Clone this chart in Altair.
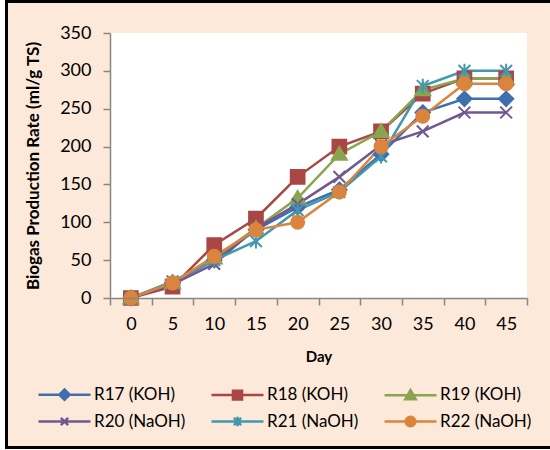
import altair as alt
import pandas as pd

days = [0, 5, 10, 15, 20, 25, 30, 35, 40, 45]
series = ["R17 (KOH)", "R18 (KOH)", "R19 (KOH)", "R20 (NaOH)", "R21 (NaOH)", "R22 (NaOH)"]
r17 = [0, 20, 50, 90, 120, 143, 190, 245, 263, 263]
r18 = [0, 15, 70, 105, 160, 200, 220, 270, 290, 290]
r19 = [0, 20, 53, 92, 132, 190, 220, 275, 290, 290]
r20 = [0, 18, 45, 92, 124, 160, 202, 220, 245, 245]
r21 = [0, 22, 50, 75, 116, 140, 187, 280, 300, 300]
r22 = [0, 20, 55, 90, 100, 140, 200, 240, 283, 283]
colors = ["#3F6FAE", "#AA4643", "#89A54E", "#71588F", "#4198AF", "#DB843D"]

values = [r17, r18, r19, r20, r21, r22]
rows = []
for i, (s, vals) in enumerate(zip(series, values)):
    for d, v in zip(days, vals):
        rows.append({"day": d, "value": v, "series": s, "order": i})
df = pd.DataFrame(rows)

# marker shapes in plot
plot_shapes = [
    "M0,-1.1L1.1,0L0,1.1L-1.1,0Z",
    "M-1.05,-1.05L1.05,-1.05L1.05,1.05L-1.05,1.05Z",
    "M0,-1.1L1.15,0.85L-1.15,0.85Z",
    "M-0.9,-0.9L0.9,0.9M-0.9,0.9L0.9,-0.9",
    "M-0.9,-0.9L0.9,0.9M-0.9,0.9L0.9,-0.9M0,-1.1L0,1.1",
    "circle",
]
# legend symbols: line + marker (unit = 13px, line spans 4 units, marker at 1)
ln = "M-1,0L3,0"
legend_shapes = [
    ln + "M1,-0.4L1.4,0L1,0.4L0.6,0Z",
    ln + "M0.65,-0.33L1.35,-0.33L1.35,0.33L0.65,0.33Z",
    ln + "M1,-0.4L1.4,0.3L0.6,0.3Z",
    ln + "M0.72,-0.28L1.28,0.28M0.72,0.28L1.28,-0.28",
    ln + "M0.72,-0.28L1.28,0.28M0.72,0.28L1.28,-0.28M1,-0.36L1,0.36",
    ln + "M1.37,0A0.37,0.37,0,1,1,0.63,0A0.37,0.37,0,1,1,1.37,0Z",
]

W, H = 417, 265
FONT = "Lato"

x_enc = alt.X(
    "day:O",
    scale=alt.Scale(type="band", paddingInner=0, paddingOuter=0),
    axis=alt.Axis(title="Day", labelAngle=0, tickBand="extent", labelFontSize=18,
                  labelPadding=10, titleFontSize=15, titleFontWeight="bold",
                  titlePadding=16, tickSize=7, zindex=1),
)
y_enc = alt.Y(
    "value:Q",
    scale=alt.Scale(domain=[0, 350], nice=False, zero=True),
    axis=alt.Axis(title="Biogas Production Rate (ml/g TS)", values=list(range(0, 351, 50)),
                  grid=False, labelFontSize=18, labelPadding=12, titleFontSize=17,
                  titleFontWeight="bold", titlePadding=17, tickSize=7, zindex=1),
)

stroke_scale = alt.Scale(domain=series, range=colors)

bg = pd.DataFrame({"a": [0]})
border = alt.Chart(bg).mark_rect(fill="#FDE9D9", stroke="black", strokeWidth=3).encode(
    x=alt.value(-103.5), x2=alt.value(460), y=alt.value(-31.5), y2=alt.value(414.5)
)
plot_bg = alt.Chart(bg).mark_rect(fill="white").encode(
    x=alt.value(0), x2=alt.value(W), y=alt.value(0), y2=alt.value(H)
)

lines = alt.Chart(df).mark_line(strokeWidth=2.5).encode(
    x=x_enc, y=y_enc,
    stroke=alt.Stroke("series:N", scale=stroke_scale, legend=None),
    detail="series:N",
)

points = alt.Chart(df).mark_point(filled=True, opacity=1, size=170, strokeWidth=2).encode(
    x=x_enc, y=y_enc,
    fill=alt.Fill("series:N", scale=stroke_scale, legend=None),
    stroke=alt.Stroke("series:N", scale=stroke_scale, legend=None),
    shape=alt.Shape("series:N", scale=alt.Scale(domain=series, range=plot_shapes), legend=None),
    order=alt.Order("order:Q"),
)

leg = alt.Legend(
    title=None, orient="none", legendX=-73, legendY=347, direction="horizontal", columns=3,
    columnPadding=20, rowPadding=2, symbolSize=676, symbolStrokeWidth=2.5, symbolOpacity=1,
    labelFontSize=17, labelFont=FONT, labelOffset=28, labelColor="black", symbolType="circle",
)
legend_layer = alt.Chart(df).mark_point(filled=True, opacity=1, strokeWidth=2.5).encode(
    x=x_enc, y=y_enc,
    fill=alt.Fill("series:N", scale=alt.Scale(domain=series, range=colors), legend=leg),
    stroke=alt.Stroke("series:N", scale=alt.Scale(domain=series, range=colors), legend=leg),
    shape=alt.Shape("series:N", scale=alt.Scale(domain=series, range=legend_shapes), legend=leg),
).transform_filter("false")

chart = alt.layer(border, plot_bg, lines, points, legend_layer).resolve_scale(
    fill="independent", stroke="independent", shape="independent"
).properties(
    width=W, height=H,
    autosize=alt.AutoSizeParams(type="none"),
    padding={"left": 110, "top": 33, "right": 23, "bottom": 152},
    background="white",
).configure_view(
    stroke=None
).configure_axis(
    domainColor="#868686", tickColor="#868686", domainWidth=1.5, tickWidth=1.5,
    labelFont=FONT, titleFont=FONT, labelColor="black", titleColor="black",
)

chart.save("out.html", embed_options={"renderer": "svg", "actions": False})
